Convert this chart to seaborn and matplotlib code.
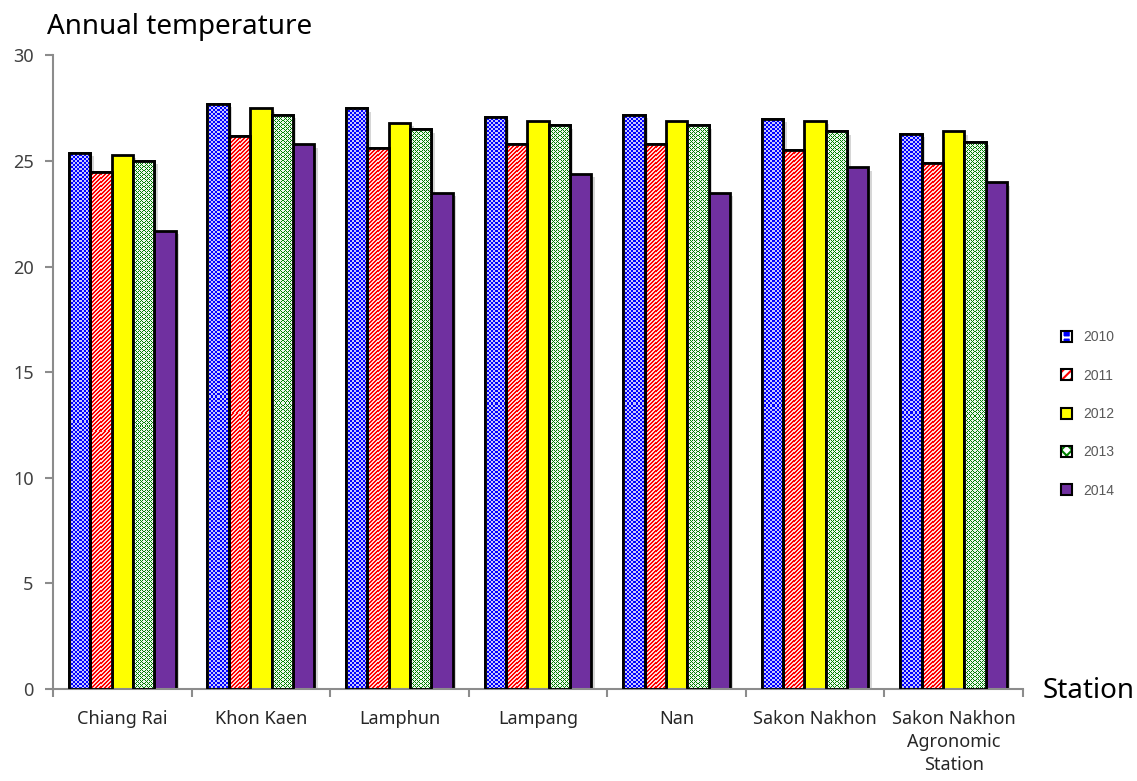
import numpy as np
import pandas as pd
import matplotlib
matplotlib.use("Agg")
import matplotlib.pyplot as plt
import matplotlib.patheffects as pe
from matplotlib.patches import Rectangle, Patch
from matplotlib.legend_handler import HandlerBase
import seaborn as sns

# Annual mean temperature per station, one list per year
stations = ["Chiang Rai", "Khon Kaen", "Lamphun", "Lampang", "Nan",
            "Sakon Nakhon", "Sakon Nakhon\nAgronomic\nStation"]
years = ["2010", "2011", "2012", "2013", "2014"]
t2010 = [25.4, 27.7, 27.5, 27.1, 27.2, 27.0, 26.3]
t2011 = [24.5, 26.2, 25.6, 25.8, 25.8, 25.5, 24.9]
t2012 = [25.3, 27.5, 26.8, 26.9, 26.9, 26.9, 26.4]
t2013 = [25.0, 27.2, 26.5, 26.7, 26.7, 26.4, 25.9]
t2014 = [21.7, 25.8, 23.5, 24.4, 23.5, 24.7, 24.0]
yticks = [0, 5, 10, 15, 20, 25, 30]

series = [t2010, t2011, t2012, t2013, t2014]
df = pd.DataFrame({
    "station": np.repeat([stations], len(years), axis=0).ravel(),
    "year": np.repeat(years, len(stations)),
    "temp": np.concatenate(series),
})

colors = {"2010": "#0000FF", "2011": "#FF0000", "2012": "#FFFF00",
          "2013": "#008000", "2014": "#7030A0"}

sns.set_theme(style="white")
plt.rcParams["font.family"] = ["Noto Sans", "DejaVu Sans"]

fig = plt.figure(figsize=(11.37, 7.81), dpi=100)
ax = fig.add_axes([0.0466, 0.1178, 0.8531, 0.8113])

sns.barplot(data=df, x="station", y="temp", hue="year", order=stations,
            hue_order=years, palette=colors, saturation=1, width=0.77,
            edgecolor="black", linewidth=2, legend=False, ax=ax)

ax.set_xlim(-0.5, len(stations) - 0.5)
ax.set_ylim(0, 30)


def fill_pattern(year, h, w):
    """Pixel pattern used to fill the textured bars."""
    r, c = np.indices((h, w))
    if year == "2010":
        on = ((r // 2 + c // 2) % 2) == 0
        col = np.array([0.0, 0.0, 1.0])
        bg = np.array([0.78, 0.78, 1.0])
    elif year == "2011":
        on = ((r + c) % 4) < 2
        col = np.array([1.0, 0.0, 0.0])
        bg = np.array([1.0, 0.85, 0.85])
    else:
        on = (((r + c) % 4) == 0) | (((r - c) % 4) == 0)
        col = np.array([0.0, 0.5, 0.0])
        bg = np.array([0.93, 0.97, 0.93])
    return np.where(on[..., None], col, bg)


shadow = [pe.SimplePatchShadow(offset=(2.5, -2.5), shadow_rgbFace="0.55",
                               alpha=0.35), pe.Normal()]

for year, cont in zip(years, ax.containers):
    for p in cont.patches:
        p.set_path_effects(shadow)
        p.set_zorder(2)
        if year in ("2010", "2011", "2013"):
            bb = p.get_window_extent()
            h = max(int(round(bb.height)), 1)
            w = max(int(round(bb.width)), 1)
            x0, y0 = p.get_xy()
            im = ax.imshow(fill_pattern(year, h, w),
                           extent=(x0, x0 + p.get_width(), y0, y0 + p.get_height()),
                           aspect="auto", interpolation="nearest", zorder=2.5)
            im.set_clip_path(p)
            ax.add_patch(Rectangle((x0, y0), p.get_width(), p.get_height(),
                                   fill=False, edgecolor="black", linewidth=2,
                                   zorder=3))

ax.set_xlim(-0.5, len(stations) - 0.5)
ax.set_ylim(0, 30)
ax.set_aspect("auto")

# axes styling
for side in ("top", "right"):
    ax.spines[side].set_visible(False)
for side in ("left", "bottom"):
    ax.spines[side].set_color("#8c8c8c")
    ax.spines[side].set_linewidth(1.5)

ax.set_yticks(yticks)
ax.set_yticklabels([str(v) for v in yticks])
ax.tick_params(axis="y", which="major", left=True, length=6, width=1.5,
               color="#8c8c8c", labelsize=13, labelcolor="#404040", pad=8)
ax.set_xticks(range(len(stations)))
ax.set_xticklabels(stations, linespacing=1.35)
ax.set_xticks(np.arange(-0.5, len(stations)), minor=True)
ax.tick_params(axis="x", which="major", bottom=True, length=0, labelsize=13,
               labelcolor="#262626", pad=15)
ax.tick_params(axis="x", which="minor", bottom=True, length=6, width=1.5,
               color="#8c8c8c")
for lab in ax.get_xticklabels():
    lab.set_verticalalignment("top")
ax.set_xlabel("")
ax.set_ylabel("")

fig.text(0.041, 0.965, "Annual temperature", fontsize=20, color="black",
         ha="left", va="center")
fig.text(0.917, 0.115, "Station", fontsize=20, color="black",
         ha="left", va="center")


class PatternHandler(HandlerBase):
    def __init__(self, face, hatch, hcolor):
        super().__init__()
        self.face, self.hatch, self.hcolor = face, hatch, hcolor

    def create_artists(self, legend, orig_handle, xdescent, ydescent,
                       width, height, fontsize, trans):
        s = min(width, height)
        x = -xdescent + (width - s) / 2
        y = -ydescent + (height - s) / 2
        base = Rectangle((x, y), s, s, facecolor=self.face,
                         edgecolor=self.hcolor, hatch=self.hatch,
                         linewidth=0, transform=trans)
        frame = Rectangle((x, y), s, s, fill=False, edgecolor="black",
                          linewidth=1.5, transform=trans)
        return [base, frame]


plt.rcParams["hatch.linewidth"] = 1.5
handles = [Patch(label=y) for y in years]
hmap = {
    handles[0]: PatternHandler("#0000FF", "++", "white"),
    handles[1]: PatternHandler("white", "////", "#FF0000"),
    handles[2]: PatternHandler("#FFFF00", None, "#FFFF00"),
    handles[3]: PatternHandler("white", "xxx", "#008000"),
    handles[4]: PatternHandler("#7030A0", None, "#7030A0"),
}
leg = fig.legend(handles=handles, handler_map=hmap, loc="center left",
                 bbox_to_anchor=(0.922, 0.47), frameon=False,
                 prop={"family": ["Liberation Sans"], "size": 10},
                 labelcolor="#595959", labelspacing=1.75, handlelength=0.85,
                 handleheight=0.85, handletextpad=0.8)

fig.savefig("out.png", dpi=100)
